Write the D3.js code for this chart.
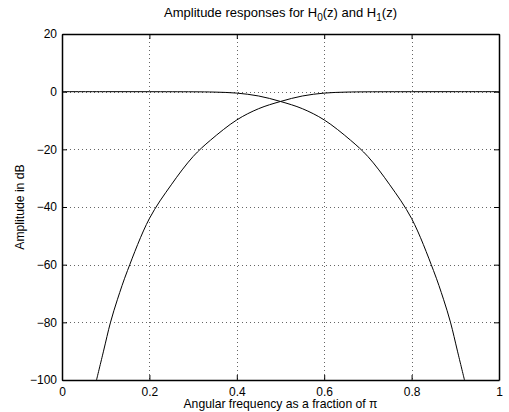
<!DOCTYPE html>
<html>
<head>
<meta charset="utf-8">
<script src="https://cdn.jsdelivr.net/npm/d3@7"></script>
<style>
  body { margin: 0; background: #fff; }
  text { font-family: "Liberation Sans", Arial, sans-serif; fill: #000; }
</style>
</head>
<body>
<svg id="chart" width="509" height="412"></svg>
<script>
// values
const xTicks = [0, 0.2, 0.4, 0.6, 0.8, 1];
const yTicks = [20, 0, -20, -40, -60, -80, -100];

// H0(z): lowpass
const h0Freq = [0, 0.1, 0.2, 0.3, 0.35, 0.4, 0.45, 0.5, 0.55, 0.6, 0.66, 0.7, 0.75, 0.8, 0.85, 0.873, 0.889, 0.905, 0.921];
const h0Db   = [0, 0, -0.01, -0.05, -0.15, -0.5, -1.5, -3.4, -5.9, -9.8, -16.8, -22.5, -32.3, -44, -62, -72, -80, -90, -100];

// H1(z): highpass
const h1Freq = [0.079, 0.095, 0.111, 0.127, 0.15, 0.2, 0.25, 0.3, 0.34, 0.4, 0.45, 0.5, 0.55, 0.6, 0.65, 0.7, 0.8, 0.9, 1.0];
const h1Db   = [-100, -90, -80, -72, -62, -44, -32.3, -22.5, -16.8, -9.8, -5.9, -3.4, -1.5, -0.5, -0.15, -0.05, -0.01, 0, 0];

const svg = d3.select('#chart');
const margin = { top: 34, right: 10, bottom: 32, left: 62 };
const width = 509 - margin.left - margin.right;
const height = 412 - margin.top - margin.bottom;

const g = svg.append('g')
  .attr('transform', `translate(${margin.left},${margin.top})`);

const x = d3.scaleLinear().domain([0, 1]).range([0, width]);
const y = d3.scaleLinear().domain([-100, 20]).range([height, 0]);

// dotted grid
g.append('g')
  .selectAll('line')
  .data(xTicks.slice(1, -1))
  .enter().append('line')
  .attr('x1', d => Math.round(x(d)) + 0.5)
  .attr('x2', d => Math.round(x(d)) + 0.5)
  .attr('y1', 0)
  .attr('y2', height)
  .attr('stroke', '#000')
  .attr('stroke-width', 1)
  .attr('stroke-dasharray', '1,3')
  .attr('opacity', 0.6);

g.append('g')
  .selectAll('line')
  .data(yTicks.slice(1, -1))
  .enter().append('line')
  .attr('y1', d => Math.round(y(d)) + 0.5)
  .attr('y2', d => Math.round(y(d)) + 0.5)
  .attr('x1', 0)
  .attr('x2', width)
  .attr('stroke', '#000')
  .attr('stroke-width', 1)
  .attr('stroke-dasharray', '1,3')
  .attr('opacity', 0.6);

// curves, clipped to the box
svg.append('defs').append('clipPath').attr('id', 'clip')
  .append('rect').attr('width', width).attr('height', height);

const line = d3.line()
  .x(d => x(d[0]))
  .y(d => y(d[1]))
  .curve(d3.curveCatmullRom.alpha(0.5));

const series = [
  d3.zip(h0Freq, h0Db),
  d3.zip(h1Freq, h1Db)
];

g.append('g')
  .attr('clip-path', 'url(#clip)')
  .selectAll('path')
  .data(series)
  .enter().append('path')
  .attr('d', line)
  .attr('fill', 'none')
  .attr('stroke', '#000')
  .attr('stroke-width', 1);

// axes, ticks inward
const fmtX = d => d === 0 || d === 1 ? String(d) : d3.format('.1f')(d);
const fmtY = d => String(d).replace('-', '\u2212');

const axB = g.append('g')
  .attr('transform', `translate(0,${height})`)
  .call(d3.axisBottom(x).tickValues(xTicks).tickSizeInner(-5).tickSizeOuter(0).tickPadding(7).tickFormat(fmtX));
const axT = g.append('g')
  .call(d3.axisTop(x).tickValues(xTicks).tickSizeInner(-5).tickSizeOuter(0).tickFormat(''));
const axL = g.append('g')
  .call(d3.axisLeft(y).tickValues(yTicks).tickSizeInner(-5).tickSizeOuter(0).tickPadding(5).tickFormat(fmtY));
const axR = g.append('g')
  .attr('transform', `translate(${width},0)`)
  .call(d3.axisRight(y).tickValues(yTicks).tickSizeInner(-5).tickSizeOuter(0).tickFormat(''));

[axB, axT, axL, axR].forEach(a => {
  a.select('.domain').attr('stroke', '#000').attr('stroke-width', 1.5);
  a.selectAll('.tick line').attr('stroke', '#000');
  a.selectAll('text')
    .attr('font-family', '"Liberation Sans", Arial, sans-serif')
    .attr('font-size', 12)
    .attr('fill', '#000');
});

// title with subscripts
const title = svg.append('text')
  .attr('x', margin.left + width / 2)
  .attr('y', 17)
  .attr('text-anchor', 'middle')
  .attr('font-size', 13);
title.append('tspan').text('Amplitude responses for H');
title.append('tspan').attr('dy', 4).attr('font-size', 10).text('0');
title.append('tspan').attr('dy', -4).text('(z) and H');
title.append('tspan').attr('dy', 4).attr('font-size', 10).text('1');
title.append('tspan').attr('dy', -4).text('(z)');

// axis labels
svg.append('text')
  .attr('x', margin.left + width / 2)
  .attr('y', 408)
  .attr('text-anchor', 'middle')
  .attr('font-size', 12.2)
  .text('Angular frequency as a fraction of \u03c0');

svg.append('text')
  .attr('transform', `translate(24,${margin.top + height / 2}) rotate(-90)`)
  .attr('text-anchor', 'middle')
  .attr('font-size', 12.2)
  .text('Amplitude in dB');
</script>
</body>
</html>
